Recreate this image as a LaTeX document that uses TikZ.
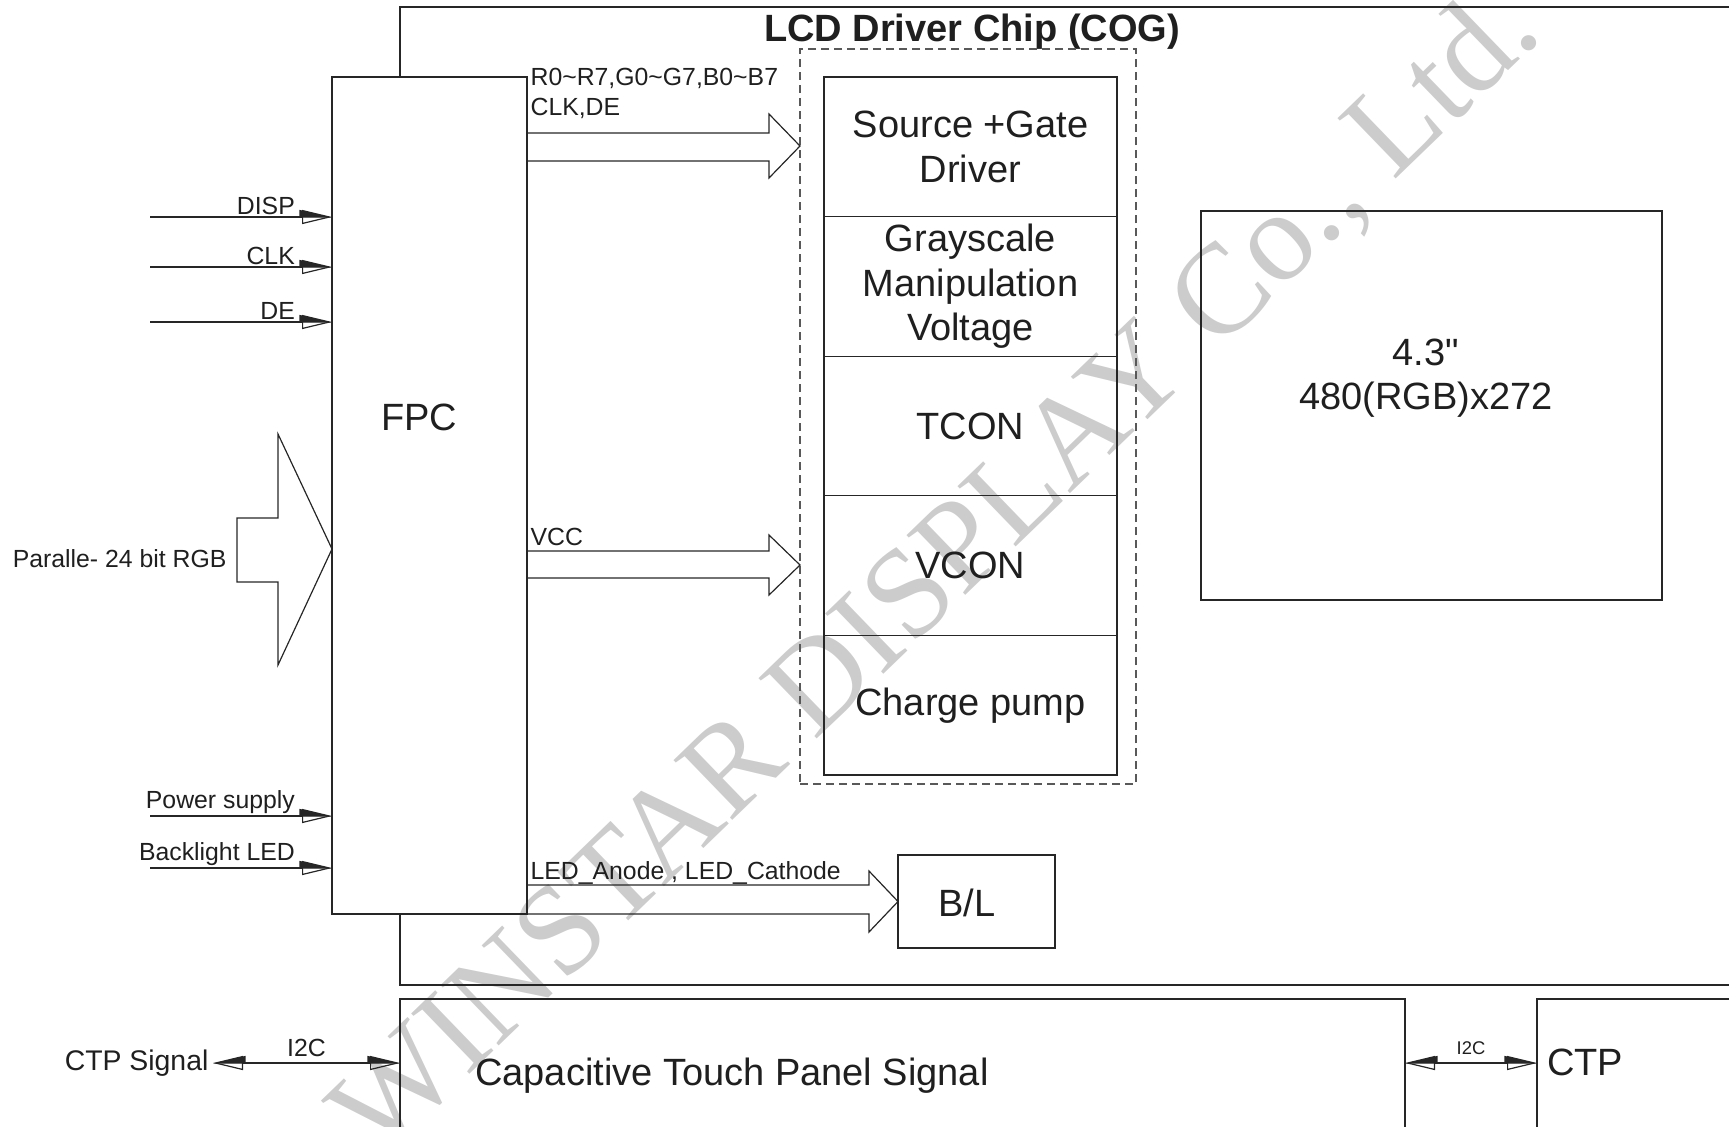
\documentclass[tikz,border=0pt]{standalone}
\usepackage{fontspec}
\setmainfont{Liberation Sans}[Ligatures=TeXOff]
\newfontfamily\markfont{Liberation Serif}
\usetikzlibrary{arrows.meta, positioning}
\tikzset{openhead/.tip={Triangle[open,length=15pt,width=7pt]}, halfhead/.tip={Triangle[harpoon,length=15pt,width=7pt]}}

\begin{document}
\begin{tikzpicture}[x=0.5pt,y=-0.5pt,line width=0.6pt,box/.style={draw=black!85,inner sep=0pt,outer sep=0pt},bigtext/.style={font=\fontsize{19}{22.3}\selectfont,text=black!88,align=center},smalltext/.style={font=\fontsize{12.4}{15}\selectfont,text=black!88,inner sep=1pt},rowbox/.style={box,minimum width=146.5pt,minimum height=69.8pt,bigtext},sig/.style={draw=black!85,-{openhead},postaction={draw=black!85,-{halfhead}}},both/.style={draw=black!85,{openhead}-{openhead},postaction={draw=black!85,{halfhead[swap]}-{halfhead}}},lbl/.style={smalltext,above left,pos=0.81},hollow/.style={draw=black!85,line join=miter}]
\useasboundingbox (0,0) rectangle (1729,1126);
\clip (0,0) rectangle (1729,1126);
\node[font=\markfont\fontsize{64}{64}\selectfont,text=black!20,rotate=44] (mark) at (938,574) {WINSTAR DISPLAY Co., Ltd.};
\node[box,anchor=north west,minimum width=97.5pt,minimum height=418.5pt] (fpc) at (332,77) {};
\node[inner sep=0pt,outer sep=0pt,anchor=north west,minimum width=680pt,minimum height=489pt] (chip) at (400,7) {};
\draw[draw=black!85] (chip.north west |- fpc.north) -- (chip.north west) -- (chip.north east); \draw[draw=black!85] (chip.south west |- fpc.south) -- (chip.south west) -- (chip.south east);
\node[font=\fontsize{19}{22.3}\selectfont\bfseries,text=black!88,anchor=base] (title) at (972,41) {LCD Driver Chip (COG)};
\node[bigtext] (fpctext) at (419,417) {FPC};
\node[box,draw=black!65,dash pattern=on 4pt off 2.5pt,anchor=north west,minimum width=168pt,minimum height=367.5pt] (cog) at (800,49) {};
\node[rowbox,anchor=north west] (srcgate) at (824,77) {Source +Gate\\Driver};
\node[rowbox,below=0pt of srcgate] (gray) {Grayscale\\Manipulation\\Voltage};
\node[rowbox,below=0pt of gray] (tcon) {TCON};
\node[rowbox,below=0pt of tcon] (vcon) {VCON};
\node[rowbox,below=0pt of vcon] (pump) {Charge pump};
\node[box,minimum width=230.5pt,minimum height=194.5pt] (lcd) at (1431.5,405.5) {};
\node[bigtext] (lcdtext) at (1426,378) {4.3"\\480(RGB)x272};
\node[box,minimum width=78.5pt,minimum height=46.5pt] (bl) at (976.5,901.5) {};
\node[bigtext] (bltext) at (967,903) {B/L};
\node[box,anchor=north west,minimum width=502.5pt,minimum height=100pt] (touch) at (400,999) {};
\node[bigtext,anchor=west] (touchtext) at (468,1076) {Capacitive Touch Panel Signal};
\node[box,anchor=north west,minimum width=120pt,minimum height=100pt] (ctp) at (1537,999) {};
\node[bigtext,anchor=west] (ctptext) at (1540,1062) {CTP};
\node[font=\fontsize{14.2}{17}\selectfont,text=black!88,anchor=east,inner sep=2pt] (ctpsig) at (213,1063) {CTP Signal};
\node[smalltext,anchor=east] (rgb) at (229,559) {Paralle- 24 bit RGB};
\node[smalltext,anchor=base west,align=left] (datalbl) at (528,115) {R0\textasciitilde R7,G0\textasciitilde G7,B0\textasciitilde B7\\CLK,DE};
\node[smalltext,anchor=base west] (vcclbl) at (528,545) {VCC};
\node[smalltext,anchor=base west] (ledlbl) at (528,879) {LED\_Anode , LED\_Cathode};
\foreach \y/\t in {217/DISP,267/CLK,322/DE,816/Power supply,868/Backlight LED} \draw[sig] (150,\y) -- node[lbl]{\t} (fpc.west |- 0,\y);
\draw[hollow] (237,518) -- (278,518) -- (278,434) -- (fpc.west |- 0,549) -- (278,665) -- (278,582) -- (237,582) -- cycle;
\draw[hollow] (fpc.east |- 0,133) -- (769,133) -- (769,114) -- (cog.west |- 0,146) -- (769,178) -- (769,161) -- (fpc.east |- 0,161);
\draw[hollow] (fpc.east |- 0,551) -- (769,551) -- (769,535) -- (cog.west |- 0,565) -- (769,595) -- (769,578) -- (fpc.east |- 0,578);
\draw[hollow] (fpc.east |- 0,885) -- (869,885) -- (869,871) -- (bl.west) -- (869,932) -- (869,914) -- (fpc.east |- 0,914);
\draw[both] (ctpsig.east) -- node[smalltext,above=2pt]{I2C} (touch.west |- ctpsig.east); \draw[both] (touch.east |- ctpsig.east) -- node[font=\fontsize{9.2}{11}\selectfont,text=black!88,above=3pt,inner sep=1pt]{I2C} (ctp.west |- ctpsig.east);
\end{tikzpicture}
\end{document}
